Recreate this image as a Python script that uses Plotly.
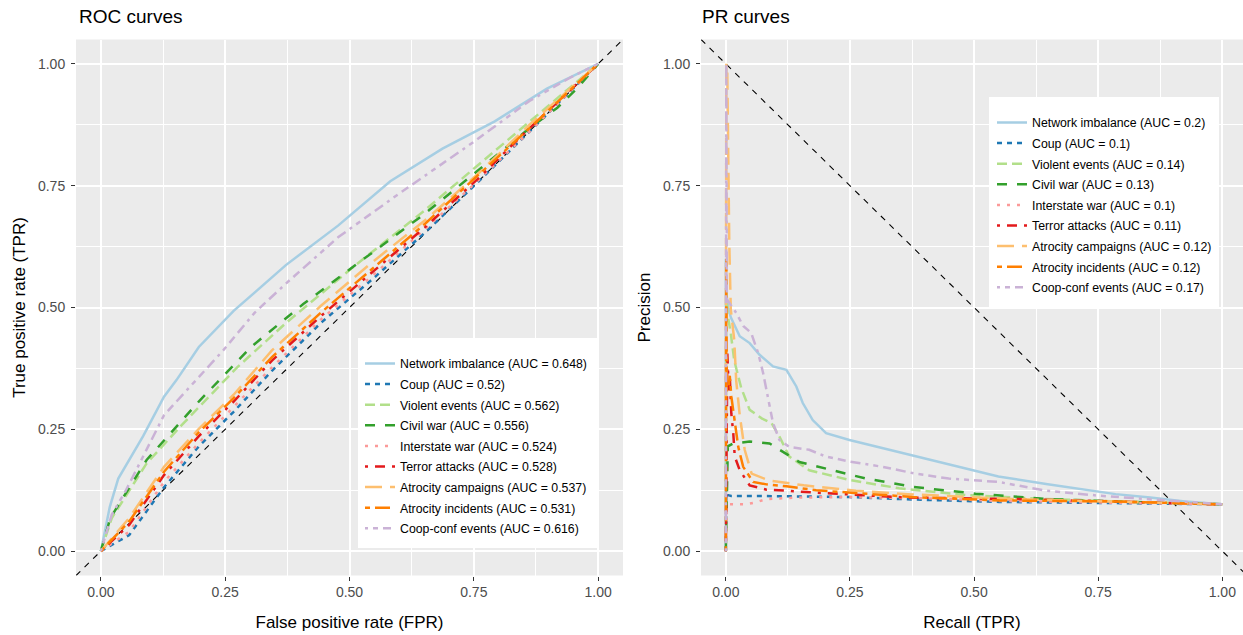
import plotly.graph_objects as go

W, H = 1243, 635

series = ["Network imbalance", "Coup", "Violent events", "Civil war", "Interstate war",
          "Terror attacks", "Atrocity campaigns", "Atrocity incidents", "Coop-conf events"]
colors = ["#A6CEE3", "#1F78B4", "#B2DF8A", "#33A02C", "#FB9A99",
          "#E31A1C", "#FDBF6F", "#FF7F00", "#CAB2D6"]
dashes = ["solid", "5px,5px", "10px,5px", "10px,10px", "3px,7px",
          "3px,7px,10px,7px", "17px,8px", "5px,5px,15px,5px", "3px,5px,5px,5px,8px,5px,10px,5px"]
roc_auc = ["0.648", "0.52", "0.562", "0.556", "0.524", "0.528", "0.537", "0.531", "0.616"]
pr_auc = ["0.2", "0.1", "0.14", "0.13", "0.1", "0.11", "0.12", "0.12", "0.17"]

# ---- ROC curves (FPR, TPR) ----
roc_net_fpr = [0, 0.018, 0.035, 0.085, 0.127, 0.152, 0.197, 0.267, 0.372, 0.477, 0.582, 0.687, 0.792, 0.897, 1.0]
roc_net_tpr = [0, 0.091, 0.149, 0.236, 0.317, 0.351, 0.419, 0.493, 0.587, 0.668, 0.759, 0.826, 0.882, 0.949, 1.0]

roc_coup_fpr = [0, 0.057, 0.127, 0.197, 0.267, 0.344, 0.442, 0.547, 0.652, 0.757, 0.862, 1.0]
roc_coup_tpr = [0, 0.033, 0.131, 0.215, 0.286, 0.370, 0.468, 0.559, 0.654, 0.756, 0.861, 1.0]

roc_viol_fpr = [0, 0.022, 0.092, 0.162, 0.274, 0.372, 0.512, 0.652, 0.757, 0.862, 1.0]
roc_viol_tpr = [0, 0.068, 0.180, 0.258, 0.377, 0.468, 0.587, 0.700, 0.791, 0.882, 1.0]

roc_civil_fpr = [0, 0.019, 0.092, 0.197, 0.302, 0.407, 0.512, 0.652, 0.757, 0.862, 0.918, 0.960, 1.0]
roc_civil_tpr = [0, 0.068, 0.187, 0.307, 0.419, 0.507, 0.587, 0.693, 0.780, 0.868, 0.910, 0.952, 1.0]

roc_inter_fpr = [0, 0.057, 0.127, 0.197, 0.267, 0.344, 0.442, 0.547, 0.652, 0.757, 0.862, 1.0]
roc_inter_tpr = [0, 0.040, 0.142, 0.222, 0.296, 0.377, 0.475, 0.566, 0.661, 0.759, 0.861, 1.0]

roc_terror_fpr = [0, 0.057, 0.127, 0.197, 0.267, 0.344, 0.442, 0.547, 0.652, 0.757, 0.862, 1.0]
roc_terror_tpr = [0, 0.054, 0.156, 0.236, 0.307, 0.391, 0.482, 0.573, 0.665, 0.763, 0.868, 1.0]

roc_acamp_fpr = [0, 0.057, 0.127, 0.197, 0.267, 0.344, 0.442, 0.547, 0.652, 0.757, 0.862, 1.0]
roc_acamp_tpr = [0, 0.068, 0.173, 0.251, 0.321, 0.412, 0.503, 0.594, 0.679, 0.773, 0.875, 1.0]

roc_ainc_fpr = [0, 0.057, 0.127, 0.197, 0.267, 0.344, 0.442, 0.547, 0.652, 0.757, 0.862, 1.0]
roc_ainc_tpr = [0, 0.061, 0.163, 0.244, 0.314, 0.398, 0.489, 0.580, 0.672, 0.770, 0.868, 1.0]

roc_coop_fpr = [0, 0.022, 0.050, 0.127, 0.246, 0.309, 0.372, 0.477, 0.596, 0.652, 0.750, 0.862, 0.946, 1.0]
roc_coop_tpr = [0, 0.075, 0.124, 0.279, 0.412, 0.489, 0.549, 0.644, 0.731, 0.770, 0.840, 0.924, 0.973, 1.0]

# ---- PR curves (Recall, Precision) ----
pr_net_rec = [0, 0, 0.002, 0.005, 0.010, 0.015, 0.028, 0.048, 0.068, 0.095, 0.122, 0.142, 0.155, 0.175, 0.202,
              0.249, 0.316, 0.382, 0.449, 0.549, 0.645, 0.715, 0.785, 0.855, 0.925, 1.0]
pr_net_prec = [0, 0.60, 0.52, 0.50, 0.48, 0.469, 0.441, 0.427, 0.403, 0.379, 0.372, 0.338, 0.304, 0.269, 0.242,
               0.228, 0.211, 0.194, 0.177, 0.153, 0.138, 0.128, 0.117, 0.110, 0.102, 0.096]

pr_coup_rec = [0, 0.001, 0.004, 0.011, 0.082, 0.249, 0.376, 0.550, 0.750, 1.0]
pr_coup_prec = [0, 0.130, 0.115, 0.113, 0.113, 0.111, 0.106, 0.101, 0.099, 0.096]

pr_viol_rec = [0, 0.001, 0.003, 0.010, 0.017, 0.031, 0.048, 0.073, 0.092, 0.108, 0.128, 0.168, 0.249, 0.349,
               0.483, 0.645, 0.785, 1.0]
pr_viol_prec = [0.10, 0.55, 0.489, 0.447, 0.391, 0.335, 0.290, 0.272, 0.263, 0.235, 0.194, 0.166, 0.146, 0.129,
                0.115, 0.107, 0.102, 0.096]

pr_civil_rec = [0, 0.002, 0.004, 0.015, 0.048, 0.088, 0.122, 0.148, 0.215, 0.282, 0.376, 0.503, 0.645, 0.785, 1.0]
pr_civil_prec = [0, 0.150, 0.215, 0.221, 0.225, 0.221, 0.200, 0.183, 0.166, 0.149, 0.132, 0.118, 0.107, 0.102, 0.096]

pr_inter_rec = [0, 0.002, 0.041, 0.060, 0.082, 0.148, 0.249, 0.416, 0.550, 0.750, 1.0]
pr_inter_prec = [0, 0.096, 0.096, 0.100, 0.107, 0.110, 0.111, 0.108, 0.103, 0.100, 0.096]

pr_terror_rec = [0, 0.002, 0.003, 0.006, 0.008, 0.011, 0.015, 0.018, 0.028, 0.048, 0.082, 0.122, 0.182, 0.366,
                 0.576, 0.785, 1.0]
pr_terror_prec = [0, 0.30, 0.407, 0.330, 0.359, 0.283, 0.242, 0.194, 0.166, 0.135, 0.126, 0.124, 0.120, 0.110,
                  0.107, 0.102, 0.096]

pr_acamp_rec = [0, 0.001, 0.003, 0.005, 0.007, 0.010, 0.017, 0.021, 0.028, 0.038, 0.052, 0.087, 0.157, 0.262,
                0.366, 0.576, 0.785, 1.0]
pr_acamp_prec = [0.30, 1.0, 0.98, 0.75, 0.63, 0.496, 0.433, 0.349, 0.279, 0.208, 0.159, 0.145, 0.135, 0.124,
                 0.117, 0.107, 0.102, 0.096]

pr_ainc_rec = [0, 0.001, 0.002, 0.005, 0.008, 0.011, 0.018, 0.025, 0.035, 0.055, 0.082, 0.122, 0.182, 0.249,
               0.376, 0.550, 0.785, 1.0]
pr_ainc_prec = [0, 0.60, 0.33, 0.331, 0.36, 0.318, 0.269, 0.214, 0.173, 0.142, 0.137, 0.133, 0.125, 0.120,
                0.111, 0.104, 0.102, 0.096]

pr_coop_rec = [0, 0.001, 0.002, 0.021, 0.035, 0.051, 0.065, 0.075, 0.085, 0.095, 0.108, 0.128, 0.168, 0.202,
               0.249, 0.316, 0.382, 0.449, 0.549, 0.645, 0.750, 0.855, 1.0]
pr_coop_prec = [0, 1.0, 0.517, 0.489, 0.462, 0.448, 0.407, 0.366, 0.318, 0.263, 0.228, 0.214, 0.208, 0.194,
                0.184, 0.173, 0.159, 0.149, 0.142, 0.124, 0.114, 0.107, 0.096]

roc_data = [(roc_net_fpr, roc_net_tpr), (roc_coup_fpr, roc_coup_tpr), (roc_viol_fpr, roc_viol_tpr),
            (roc_civil_fpr, roc_civil_tpr), (roc_inter_fpr, roc_inter_tpr), (roc_terror_fpr, roc_terror_tpr),
            (roc_acamp_fpr, roc_acamp_tpr), (roc_ainc_fpr, roc_ainc_tpr), (roc_coop_fpr, roc_coop_tpr)]
pr_data = [(pr_net_rec, pr_net_prec), (pr_coup_rec, pr_coup_prec), (pr_viol_rec, pr_viol_prec),
           (pr_civil_rec, pr_civil_prec), (pr_inter_rec, pr_inter_prec), (pr_terror_rec, pr_terror_prec),
           (pr_acamp_rec, pr_acamp_prec), (pr_ainc_rec, pr_ainc_prec), (pr_coop_rec, pr_coop_prec)]

tick_vals = [0, 0.25, 0.5, 0.75, 1.0]
tick_text = ["0.00", "0.25", "0.50", "0.75", "1.00"]
minor_vals = [0.125, 0.375, 0.625, 0.875]
lo, hi = -0.05, 1.05

FONT = "Liberation Sans, Arial, Helvetica, sans-serif"

fig = go.Figure()

# reference diagonals
fig.add_trace(go.Scatter(x=[lo, hi], y=[lo, hi], mode="lines", xaxis="x", yaxis="y",
                         line=dict(color="black", width=1.1, dash="6px,6px"), showlegend=False, hoverinfo="skip"))
fig.add_trace(go.Scatter(x=[lo, hi], y=[hi, lo], mode="lines", xaxis="x2", yaxis="y2",
                         line=dict(color="black", width=1.1, dash="6px,6px"), showlegend=False, hoverinfo="skip"))

for i, name in enumerate(series):
    x, y = roc_data[i]
    fig.add_trace(go.Scatter(x=x, y=y, mode="lines", xaxis="x", yaxis="y",
                             name=f"{name} (AUC = {roc_auc[i]})", legend="legend", legendgroup=f"roc{i}",
                             line=dict(color=colors[i], width=2.5, dash=dashes[i])))
for i, name in enumerate(series):
    x, y = pr_data[i]
    fig.add_trace(go.Scatter(x=x, y=y, mode="lines", xaxis="x2", yaxis="y2",
                             name=f"{name} (AUC = {pr_auc[i]})", legend="legend2", legendgroup=f"pr{i}",
                             line=dict(color=colors[i], width=2.5, dash=dashes[i])))

def px_x(p):
    return p / W

def px_y(p):
    return 1 - p / H

y_dom = [px_y(575.5), px_y(39.5)]

def axis(domain, rng, title, anchor, standoff, lab_standoff):
    return dict(domain=domain, range=rng, anchor=anchor, tickmode="array", tickvals=tick_vals, ticktext=tick_text,
                showgrid=True, gridcolor="white", gridwidth=2, zeroline=False, showline=False,
                ticks="outside", ticklen=4, tickwidth=1.1, tickcolor="#333333",
                ticklabelstandoff=lab_standoff,
                tickfont=dict(family=FONT, size=14, color="#4D4D4D"),
                minor=dict(tickvals=minor_vals, showgrid=True, gridcolor="white", gridwidth=1, ticks=""),
                title=dict(text=title, font=dict(family=FONT, size=17, color="black"), standoff=standoff),
                fixedrange=True)

legend_common = dict(bgcolor="rgba(0,0,0,0)", borderwidth=0, font=dict(family=FONT, size=12.3, color="black"),
                     traceorder="grouped", tracegroupgap=1.6, xanchor="left", yanchor="top", itemclick=False)

fig.update_layout(
    width=W, height=H, margin=dict(l=0, r=0, t=0, b=0),
    paper_bgcolor="white", plot_bgcolor="#EBEBEB",
    font=dict(family=FONT),
    xaxis=axis([px_x(76), px_x(623)], [lo, hi], "False positive rate (FPR)", "y", 16, 0),
    yaxis=axis(y_dom, [lo, hi], "True positive rate (TPR)", "x", 8, 3),
    xaxis2=axis([px_x(701), 1.0], [lo, (W - 725.7) / 496.6], "Recall (TPR)", "y2", 16, 0),
    yaxis2=axis(y_dom, [lo, hi], "Precision", "x2", 8, 3),
    legend=dict(x=px_x(360), y=px_y(349), **legend_common),
    legend2=dict(x=px_x(992), y=px_y(108), **legend_common),
    shapes=[
        dict(type="rect", xref="paper", yref="paper", x0=px_x(358), x1=px_x(597), y0=px_y(338), y1=px_y(548),
             fillcolor="white", line=dict(width=0), layer="above"),
        dict(type="rect", xref="paper", yref="paper", x0=px_x(989), x1=px_x(1219), y0=px_y(97), y1=px_y(307),
             fillcolor="white", line=dict(width=0), layer="above"),
    ],
    annotations=[
        dict(text="ROC curves", xref="paper", yref="paper", x=px_x(77), y=px_y(16), xanchor="left",
             yanchor="middle", showarrow=False, font=dict(family=FONT, size=19, color="black")),
        dict(text="PR curves", xref="paper", yref="paper", x=px_x(700), y=px_y(16), xanchor="left",
             yanchor="middle", showarrow=False, font=dict(family=FONT, size=19, color="black")),
    ],
    showlegend=True,
)

fig.write_html("out.html")
